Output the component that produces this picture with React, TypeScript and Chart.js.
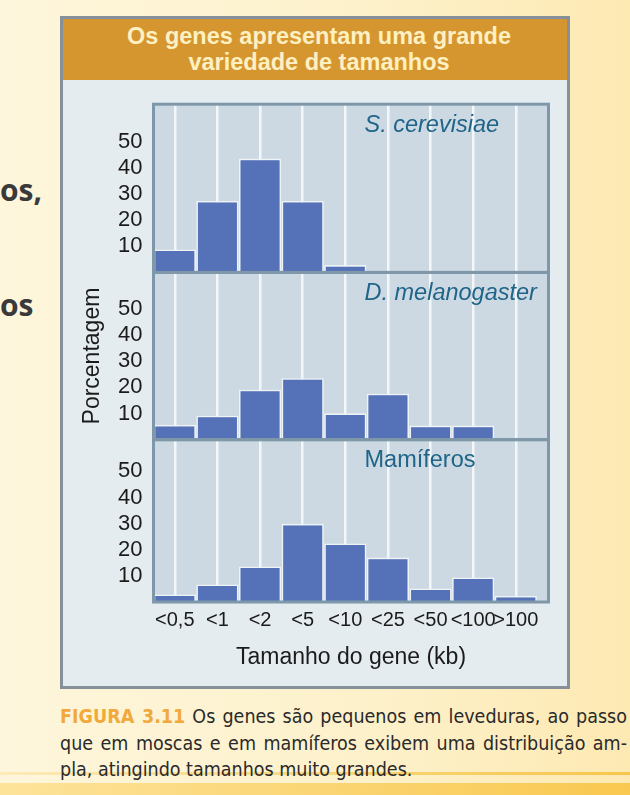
import React, { useEffect, useRef } from "react";
import { Chart, registerables } from "chart.js";

Chart.register(...registerables);

// ---- data ----
const categories = ["<0,5", "<1", "<2", "<5", "<10", "<25", "<50", "<100", ">100"];
const yeastValues: (number | null)[] = [8.8, 27.3, 43.5, 27.3, 2.8, null, null, null, null];
const flyValues: (number | null)[] = [5.7, 9.2, 19.1, 23.5, 10.1, 17.6, 5.4, 5.4, null];
const mammalValues: (number | null)[] = [2.9, 6.7, 13.6, 29.9, 22.4, 17.0, 5.2, 9.4, 2.3];
const panelNames = ["S. cerevisiae", "D. melanogaster", "Mamíferos"];
const yTickValues = [10, 20, 30, 40, 50];

const FONT = "'Liberation Sans', Arial, Helvetica, sans-serif";
const TEXT = "#1b1b1b";

const toPoints = (vals: (number | null)[]) =>
  vals.map((v, i) => ({ x: i, y: v })).filter((p) => p.y !== null);

const panelPlugin = {
  id: "panels",
  beforeDraw(chart: any) {
    const { ctx, chartArea } = chart;
    ctx.save();
    ctx.fillStyle = "#cdd9e2";
    ctx.fillRect(chartArea.left, chartArea.top, chartArea.width, chartArea.height);
    ctx.restore();
  },
  afterDatasetsDraw(chart: any) {
    const { ctx, chartArea } = chart;
    const ids = ["y1", "y2", "y3"];
    ctx.save();
    ctx.strokeStyle = "#7f98a9";
    ctx.lineWidth = 3;
    ids.forEach((id) => {
      const s = chart.scales[id];
      ctx.strokeRect(chartArea.left, s.top, chartArea.width, s.bottom - s.top);
    });
    const xs = chart.scales.x;
    const lx = xs.getPixelForValue(4.45);
    ctx.fillStyle = "#1f6489";
    ctx.textAlign = "left";
    ctx.textBaseline = "middle";
    ids.forEach((id, i) => {
      const s = chart.scales[id];
      ctx.font = `${i < 2 ? "italic " : ""}23.5px ${FONT}`;
      ctx.fillText(panelNames[i], lx, s.top + 21);
    });
    ctx.restore();
  },
};

const makeYAxis = (max: number, weight: number, showTitle: boolean) => ({
  type: "linear",
  position: "left",
  stack: "panels",
  stackWeight: weight,
  min: 0,
  max,
  afterBuildTicks: (s: any) => {
    s.ticks = yTickValues.map((v) => ({ value: v }));
  },
  afterFit: (s: any) => {
    s.width = 90.5;
  },
  grid: { display: false, drawTicks: false },
  border: { display: false },
  ticks: { autoSkip: false, padding: 11, color: TEXT, font: { family: FONT, size: 22 } },
  title: {
    display: showTitle,
    text: "Porcentagem",
    color: TEXT,
    font: { family: FONT, size: 23 },
    padding: { top: 15.5, bottom: 0 },
  },
});

const barStyle = {
  backgroundColor: "#5571b8",
  borderColor: "#eef3f6",
  borderWidth: 1.6,
  borderSkipped: "start",
  grouped: false,
  barPercentage: 0.99,
  categoryPercentage: 1,
};

function BarChart() {
  const ref = useRef<HTMLCanvasElement>(null);
  useEffect(() => {
    if (!ref.current) return;
    const chart = new Chart(ref.current, {
      type: "bar",
      data: {
        datasets: [
          { label: panelNames[0], data: toPoints(yeastValues), yAxisID: "y1", ...barStyle },
          { label: panelNames[1], data: toPoints(flyValues), yAxisID: "y2", ...barStyle },
          { label: panelNames[2], data: toPoints(mammalValues), yAxisID: "y3", ...barStyle },
        ] as any,
      },
      options: {
        animation: false,
        responsive: false,
        maintainAspectRatio: false,
        layout: { padding: { left: 0, right: 18.5, top: 17.5, bottom: 0 } },
        plugins: { legend: { display: false }, tooltip: { enabled: false } },
        scales: {
          x: {
            type: "linear",
            position: "bottom",
            offset: false,
            min: -0.5,
            max: 8.767,
            afterBuildTicks: (s: any) => {
              s.ticks = categories.map((_, i) => ({ value: i }));
            },
            afterFit: (s: any) => {
              s.height = 84;
            },
            grid: { color: "#f4f7f9", lineWidth: 2.5, drawTicks: false, offset: false },
            border: { display: false },
            ticks: {
              autoSkip: false,
              maxRotation: 0,
              minRotation: 0,
              padding: 6,
              color: TEXT,
              font: { family: FONT, size: 20 },
              callback: (v: any) => categories[v] ?? "",
            },
            title: {
              display: true,
              text: "Tamanho do gene (kb)",
              color: TEXT,
              font: { family: FONT, size: 23 },
              padding: { top: 0, bottom: 15 },
            },
          },
          y3: makeYAxis(62.1, 164.5, false),
          y2: makeYAxis(64, 169.5, true),
          y1: makeYAxis(64.3, 170.5, false),
        } as any,
      },
      plugins: [panelPlugin],
    });
    return () => chart.destroy();
  }, []);
  return (
    <canvas
      ref={ref}
      width={504}
      height={606}
      style={{ position: "absolute", left: 63, top: 80, width: 504, height: 606 }}
    />
  );
}

export default function App() {
  const captionFont = "'DejaVu Sans Condensed', 'Liberation Sans Narrow', 'DejaVu Sans', sans-serif";
  const justified = { textAlign: "justify", textAlignLast: "justify" } as any;
  return (
    <div
      style={{
        position: "absolute",
        left: 0,
        top: 0,
        width: 630,
        height: 795,
        overflow: "hidden",
        background: "linear-gradient(90deg, #fef6dc 0%, #fdf1ca 60%, #fde9b2 100%)",
        fontFamily: FONT,
      }}
    >
      {/* cut-off text from the page on the left */}
      <div
        style={{
          position: "absolute",
          left: 0,
          top: 172,
          fontFamily: "'Open Sans', sans-serif",
          fontWeight: 700,
          fontSize: 30,
          lineHeight: "36px",
          color: "#3a3a3a",
        }}
      >
        os,
      </div>
      <div
        style={{
          position: "absolute",
          left: 0,
          top: 287,
          fontFamily: "'Open Sans', sans-serif",
          fontWeight: 700,
          fontSize: 30,
          lineHeight: "36px",
          color: "#3a3a3a",
        }}
      >
        os
      </div>

      {/* figure box */}
      <div
        style={{
          position: "absolute",
          left: 60,
          top: 16,
          width: 504,
          height: 667,
          border: "3px solid #86909a",
          background: "#e5ecf0",
        }}
      >
        <div
          style={{
            height: 61,
            background: "#d6962f",
            color: "#fdf0c2",
            fontFamily: FONT,
            fontWeight: 700,
            fontSize: 23.5,
            lineHeight: "26px",
            textAlign: "center",
            paddingTop: 4,
            paddingLeft: 8,
            boxSizing: "border-box",
          }}
        >
          <div>Os genes apresentam uma grande</div>
          <div>variedade de tamanhos</div>
        </div>
      </div>

      <BarChart />

      {/* bottom stripes */}
      <div
        style={{
          position: "absolute",
          left: 0,
          top: 772,
          width: 630,
          height: 3,
          background: "linear-gradient(90deg, rgba(248,200,80,0.25), #f8c64c)",
        }}
      />
      <div
        style={{
          position: "absolute",
          left: 0,
          top: 783,
          width: 630,
          height: 12,
          background: "linear-gradient(90deg, #fde39a, #f9c850)",
        }}
      />

      {/* caption */}
      <div
        style={{
          position: "absolute",
          left: 60,
          top: 704,
          width: 567,
          fontFamily: captionFont,
          fontSize: 19.5,
          lineHeight: "26.5px",
          color: "#2a2a2a",
        }}
      >
        <div style={justified}>
          <span style={{ color: "#f2a93b", fontWeight: 700 }}>FIGURA 3.11</span> Os genes são pequenos em leveduras, ao passo
        </div>
        <div style={justified}>que em moscas e em mamíferos exibem uma distribuição am-</div>
        <div>pla, atingindo tamanhos muito grandes.</div>
      </div>
    </div>
  );
}
